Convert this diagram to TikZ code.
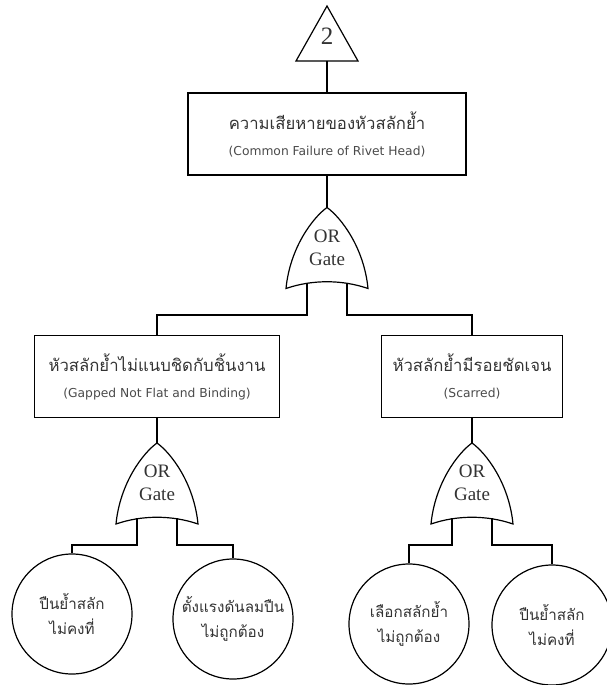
\documentclass[tikz,border=0pt]{standalone}
\usepackage{fontspec}
\setmainfont{Liberation Serif}
\newfontfamily\thaifont[Script=Thai]{Loma}
\newfontfamily\engsans{DejaVu Sans}
\usetikzlibrary{calc}
\definecolor{txtdark}{HTML}{333333}
\definecolor{txtlight}{HTML}{4A4A4A}
\newcommand\thbig{\thaifont\fontsize{16.7}{18}\selectfont\color{txtdark}}
\newcommand\thsmall{\thaifont\fontsize{15.2}{25}\selectfont\color{txtdark}}
\newcommand\ensmall{\engsans\fontsize{12.3}{14}\selectfont\color{txtlight}}
\begin{document}
\begin{tikzpicture}[x=1pt,y=-1pt,
  conn/.style={line width=1.2pt, black},
  box/.style={draw, line width=1.2pt, rectangle, align=center, inner sep=0pt, minimum height=82pt},
  ev/.style={draw, circle, line width=1.2pt, minimum size=120pt, align=center, inner sep=0pt, font=\thsmall},
  gatetext/.style={align=center, font=\fontsize{19}{23}\selectfont, text=txtdark},
  orgate/.pic={
    \draw[line width=1.2pt, fill=white] (0,-40) .. controls (-14,-30) and (-37,0) .. (-41,41)
      .. controls (-15,32) and (15,32) .. (41,41)
      .. controls (37,0) and (14,-30) .. (0,-40) -- cycle;
    \node[gatetext] (-txt) at (0,0) {OR\\Gate};
    \coordinate (-top) at (0,-40);
    \coordinate (-l) at (-20,35);
    \coordinate (-r) at (20,35);
  }]
\useasboundingbox (0,0) rectangle (606,685);

% transfer triangle
\draw[line width=1.2pt] (296,61) -- (327,6) -- (358,61) -- cycle;
\node[font=\fontsize{25}{28}\selectfont, text=txtdark] (two) at (327,36) {2};
\coordinate (tribase) at (327,61);

% top event
\node[box, minimum width=278pt] (topev) at (327,134)
  {{\thbig ความเสียหายของหัวสลักย้ำ}\\[14pt]{\ensmall (Common Failure of Rivet Head)}};

% gates
\pic (g1) at (327,247.5) {orgate};
\pic (g2) at (157,483) {orgate};
\pic (g3) at (472,483) {orgate};

% intermediate events
\node[box, minimum width=245pt] (lbox) at (157,376.5)
  {{\thbig หัวสลักย้ำไม่แนบชิดกับชิ้นงาน}\\[14pt]{\ensmall (Gapped Not Flat and Binding)}};
\node[box, minimum width=181pt] (rbox) at (472,376.5)
  {{\thbig หัวสลักย้ำมีรอยชัดเจน}\\[14pt]{\ensmall (Scarred)}};

% basic events
\node[ev] (e1) at (72,614) {ปืนย้ำสลัก\\ไม่คงที่};
\node[ev] (e2) at (233,619) {ตั้งแรงดันลมปืน\\ไม่ถูกต้อง};
\node[ev] (e3) at (409,624) {เลือกสลักย้ำ\\ไม่ถูกต้อง};
\node[ev] (e4) at (552,625) {ปืนย้ำสลัก\\ไม่คงที่};

% bus levels
\coordinate (y1) at (0,315);
\coordinate (y2) at (0,545);

% connectors
\draw[conn] (tribase) -- (topev.north);
\draw[conn] (topev.south) -- (g1-top);
\draw[conn] (g1-l) -- (g1-l |- y1) -| (lbox.north);
\draw[conn] (g1-r) -- (g1-r |- y1) -| (rbox.north);
\draw[conn] (lbox.south) -- (g2-top);
\draw[conn] (rbox.south) -- (g3-top);
\draw[conn] (g2-l) -- (g2-l |- y2) -| (e1.north);
\draw[conn] (g2-r) -- (g2-r |- y2) -| (e2.north);
\draw[conn] (g3-l) -- (g3-l |- y2) -| (e3.north);
\draw[conn] (g3-r) -- (g3-r |- y2) -| (e4.north);
\end{tikzpicture}
\end{document}
